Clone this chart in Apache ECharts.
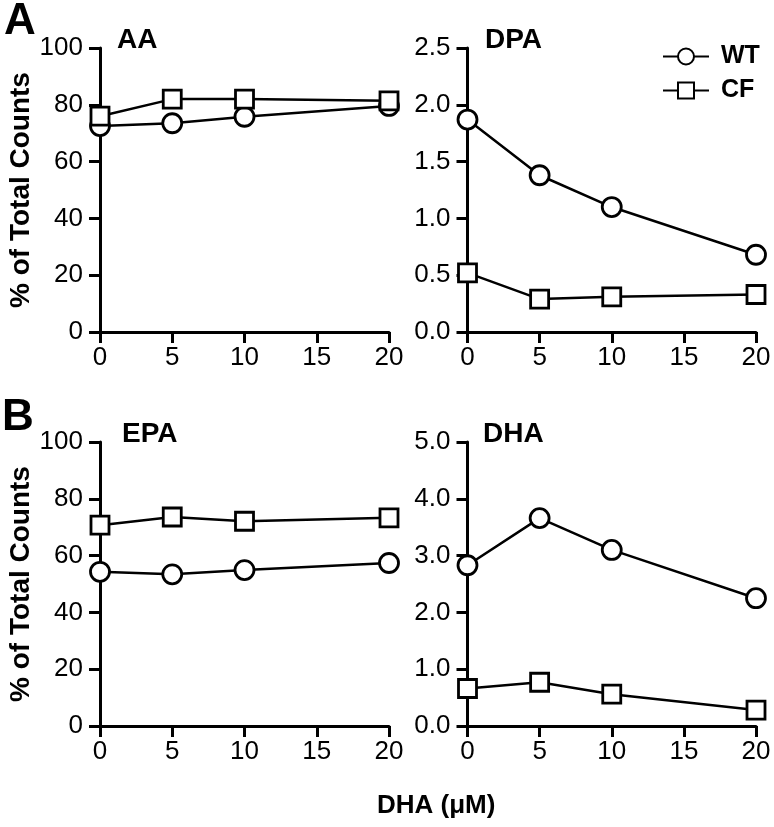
<!DOCTYPE html>
<html>
<head>
<meta charset="utf-8">
<script src="https://cdn.jsdelivr.net/npm/echarts@6/dist/echarts.min.js"></script>
<style>
html,body{margin:0;padding:0;background:#fff;}
#chart{width:774px;height:827px;}
</style>
</head>
<body>
<div id="chart"></div>
<script>
// ---- data ----
const doseValues = [0, 5, 10, 20];
const xTicks = [0, 5, 10, 15, 20];
const panelNames = ['AA', 'DPA', 'EPA', 'DHA'];
const seriesNames = ['WT', 'CF'];
const aaWT = [72.5, 73.5, 75.8, 79.6];
const aaCF = [76.0, 82.0, 82.0, 81.4];
const dpaWT = [1.87, 1.38, 1.10, 0.68];
const dpaCF = [0.52, 0.29, 0.31, 0.33];
const epaWT = [54.3, 53.4, 54.9, 57.4];
const epaCF = [70.7, 73.6, 72.1, 73.3];
const dhaWT = [2.83, 3.66, 3.10, 2.25];
const dhaCF = [0.66, 0.77, 0.56, 0.28];
const yMaxes = [100, 2.5, 100, 5.0];
const yIntervals = [20, 0.5, 20, 1.0];
const yDecimals = [0, 1, 0, 1];
const yAxisTitle = '% of Total Counts';
const xAxisTitle = 'DHA (\u03bcM)';
const panelLetters = ['A', 'B'];

const FONT = '"Liberation Sans", Arial, Helvetica, sans-serif';
const chart = echarts.init(document.getElementById('chart'), null, {renderer: 'canvas'});

const gridPos = [
  {left: 100, top: 48, width: 289, height: 284},
  {left: 467.5, top: 48, width: 288.5, height: 284},
  {left: 100, top: 442, width: 289, height: 284},
  {left: 467.5, top: 442, width: 288.5, height: 284}
];
const panelData = [[aaWT, aaCF], [dpaWT, dpaCF], [epaWT, epaCF], [dhaWT, dhaCF]];

const axisLineStyle = {show: true, lineStyle: {color: '#000', width: 3}};
const tickStyle = {show: true, length: 11, lineStyle: {color: '#000', width: 3}};

const xAxes = gridPos.map((g, i) => ({
  type: 'value', gridIndex: i, min: 0, max: 20, interval: 5,
  axisLine: axisLineStyle, axisTick: tickStyle, splitLine: {show: false},
  axisLabel: {color: '#000', fontSize: 26, fontFamily: FONT, margin: 13}
}));
const yAxes = gridPos.map((g, i) => ({
  type: 'value', gridIndex: i, min: 0, max: yMaxes[i], interval: yIntervals[i],
  axisLine: axisLineStyle, axisTick: tickStyle, splitLine: {show: false},
  axisLabel: {color: '#000', fontSize: 26, fontFamily: FONT, margin: 17,
    formatter: v => v.toFixed(yDecimals[i])},
  name: (i % 2 === 0) ? yAxisTitle : '',
  nameLocation: 'middle', nameRotate: 90, nameGap: 61,
  nameTextStyle: {color: '#000', fontSize: 28, fontWeight: 'bold', fontFamily: FONT}
}));

const series = [];
panelData.forEach((pair, i) => {
  pair.forEach((vals, k) => {
    series.push({
      type: 'line', name: seriesNames[k], xAxisIndex: i, yAxisIndex: i,
      data: doseValues.map((x, j) => [x, vals[j]]),
      symbol: k === 0 ? 'circle' : 'rect',
      symbolSize: k === 0 ? 19 : 18,
      clip: false, z: 5,
      lineStyle: {color: '#000', width: 2.5},
      itemStyle: {color: '#fff', borderColor: '#000', borderWidth: 2.8},
      emphasis: {disabled: true},
      animation: false
    });
  });
});

const titleStyle = {color: '#000', fontSize: 28, fontWeight: 'bold', fontFamily: FONT};
const titles = [
  {text: panelNames[0], left: 117, top: 26},
  {text: panelNames[1], left: 485, top: 26},
  {text: panelNames[2], left: 122, top: 420},
  {text: panelNames[3], left: 483, top: 420}
].map(t => ({...t, padding: 0, textStyle: titleStyle}));
titles.push({text: panelLetters[0], left: 4, top: 0, padding: 0, textStyle: {color: '#000', fontSize: 44, fontWeight: 'bold', fontFamily: FONT}});
titles.push({text: panelLetters[1], left: 2, top: 396, padding: 0, textStyle: {color: '#000', fontSize: 44, fontWeight: 'bold', fontFamily: FONT}});
titles.push({text: xAxisTitle, left: 377, top: 793, padding: 0, textStyle: {color: '#000', fontSize: 26, fontWeight: 'bold', fontFamily: FONT}});

chart.setOption({
  animation: false,
  backgroundColor: '#fff',
  title: titles,
  grid: gridPos,
  xAxis: xAxes,
  yAxis: yAxes,
  legend: {
    data: seriesNames, orient: 'vertical', left: 662, top: 44, padding: 0,
    itemWidth: 46, itemHeight: 20, itemGap: 9,
    textStyle: {color: '#000', fontSize: 25, fontWeight: 'bold', fontFamily: FONT, padding: [0, 0, 0, 7]},
    selectedMode: false
  },
  series: series
});
</script>
</body>
</html>
